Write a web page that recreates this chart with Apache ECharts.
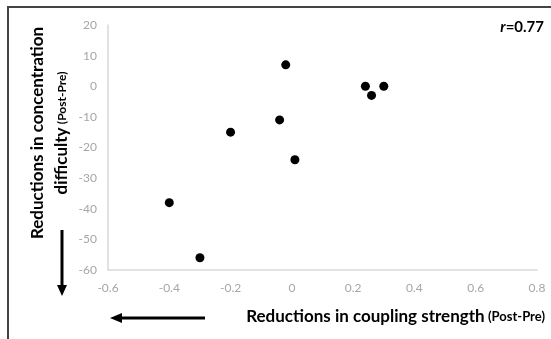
<!DOCTYPE html>
<html>
<head>
<meta charset="utf-8">
<script src="https://cdn.jsdelivr.net/npm/echarts@6/dist/echarts.min.js"></script>
<style>
  html, body { margin: 0; padding: 0; background: #fff; }
  #chart { width: 551px; height: 339px; }
</style>
</head>
<body>
<div id="chart"></div>
<script>
// coupling strength change (x) vs concentration difficulty change (y)
const couplingChange = [-0.4, -0.3, -0.2, -0.04, -0.02, 0.01, 0.24, 0.26, 0.3]
const difficultyChange = [-38, -56, -15, -11, 7, -24, 0, -3, 0]
const xTicks = [-0.6, 0.8, 0.2] // min, max, step
const yTicks = [-60, 20, 10]

const points = couplingChange.map((x, i) => [x, difficultyChange[i]])

const FONT = 'Lato'
const chart = echarts.init(document.getElementById('chart'))

chart.setOption({
  animation: false,
  grid: {
    left: 108,
    right: 14,
    top: 25,
    bottom: 69,
  },
  xAxis: {
    type: 'value',
    min: xTicks[0],
    max: xTicks[1],
    interval: xTicks[2],
    axisLine: { onZero: false, lineStyle: { color: '#d9d9d9', width: 1.5 } },
    axisTick: { show: false },
    splitLine: { show: false },
    axisLabel: {
      color: '#a6a6a6',
      fontFamily: FONT,
      fontSize: 12,
      margin: 12,
      formatter: (v) => String(Math.round(v * 10) / 10),
    },
  },
  yAxis: {
    type: 'value',
    min: yTicks[0],
    max: yTicks[1],
    interval: yTicks[2],
    axisLine: { show: true, onZero: false, lineStyle: { color: '#d9d9d9', width: 1.5 } },
    axisTick: { show: false },
    splitLine: { show: false },
    axisLabel: {
      color: '#a6a6a6',
      fontFamily: FONT,
      fontSize: 12,
      margin: 11,
    },
  },
  series: [
    {
      type: 'scatter',
      data: points,
      symbolSize: 9,
      itemStyle: { color: '#000', opacity: 1 },
    },
  ],
  graphic: [
    // frame (left + top)
    {
      type: 'polyline',
      shape: { points: [[8, 339], [8, 7], [551, 7]] },
      style: { stroke: '#444', lineWidth: 2, fill: null },
    },
    // r value
    {
      type: 'text',
      x: 544,
      y: 27,
      style: {
        text: '{i|r}{b|=0.77}',
        align: 'right',
        verticalAlign: 'middle',
        rich: {
          i: { fontFamily: FONT, fontSize: 15, fontWeight: 'bold', fontStyle: 'italic', fill: '#000' },
          b: { fontFamily: FONT, fontSize: 15, fontWeight: 'bold', fill: '#000' },
        },
      },
    },
    // y axis title
    {
      type: 'text',
      x: 50,
      y: 133,
      rotation: Math.PI / 2,
      style: {
        text: '{t|Reductions in concentration}\n{t|difficulty} {s|(Post-Pre)}',
        align: 'center',
        verticalAlign: 'middle',
        rich: {
          t: { fontFamily: FONT, fontSize: 17, fontWeight: 'bold', fill: '#000', lineHeight: 24 },
          s: { fontFamily: FONT, fontSize: 12, fontWeight: 'bold', fill: '#000', lineHeight: 24 },
        },
      },
    },
    // x axis title
    {
      type: 'text',
      x: 545,
      y: 317,
      style: {
        text: '{t|Reductions in coupling strength} {s|(Post-Pre)}',
        align: 'right',
        verticalAlign: 'middle',
        rich: {
          t: { fontFamily: FONT, fontSize: 17, fontWeight: 'bold', fill: '#000' },
          s: { fontFamily: FONT, fontSize: 13, fontWeight: 'bold', fill: '#000' },
        },
      },
    },
    // down arrow
    {
      type: 'line',
      shape: { x1: 62, y1: 230, x2: 62, y2: 287 },
      style: { stroke: '#000', lineWidth: 3 },
    },
    {
      type: 'polygon',
      shape: { points: [[57, 285], [67, 285], [62, 296]] },
      style: { fill: '#000' },
    },
    // left arrow
    {
      type: 'line',
      shape: { x1: 120, y1: 318, x2: 205, y2: 318 },
      style: { stroke: '#000', lineWidth: 3 },
    },
    {
      type: 'polygon',
      shape: { points: [[122, 313], [122, 323], [110, 318]] },
      style: { fill: '#000' },
    },
  ],
})
</script>
</body>
</html>
